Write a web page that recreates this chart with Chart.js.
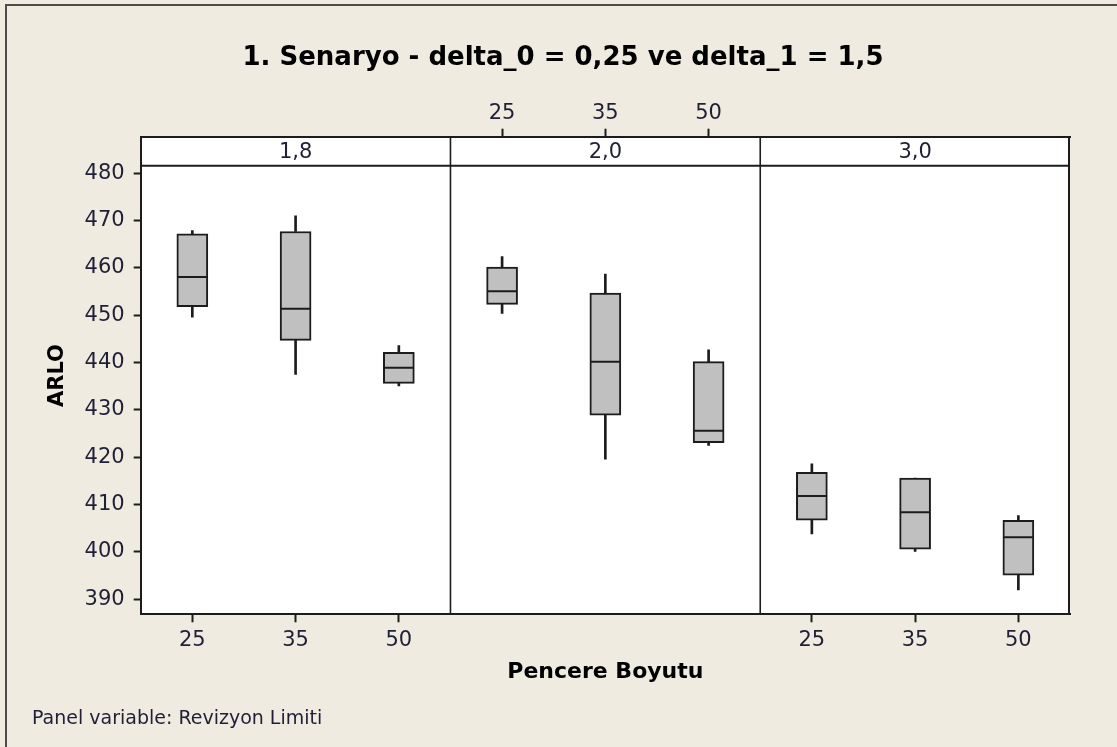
<!DOCTYPE html>
<html lang="tr">
<head>
  <meta charset="utf-8">
  <title>ARLO - Pencere Boyutu</title>
  <script src="https://cdn.jsdelivr.net/npm/chart.js@4.4.1/dist/chart.umd.min.js"></script>
  <style>
    body { margin: 0; background: #efebe1; }
    #wrap { width: 1117px; height: 747px; }
  </style>
</head>
<body>
<div id="wrap"><canvas id="arlChart" width="1117" height="747"></canvas></div>
<script>
// panels (Revizyon Limiti) and window sizes (Pencere Boyutu)
var panels = ['1,8', '2,0', '3,0'];
var windowSizes = ['25', '35', '50'];
var yTicks = [390, 400, 410, 420, 430, 440, 450, 460, 470, 480];

// box statistics, three per panel in order 25, 35, 50
var mins    = [449.6, 437.5, 435.1,  450.4, 419.6, 422.5,  403.8, 400.1, 392.0];
var q1s     = [451.8, 444.7, 435.6,  452.3, 428.9, 423.1,  406.7, 400.6, 395.1];
var medians = [458.1, 451.4, 438.9,  455.1, 440.2, 425.6,  411.8, 408.4, 403.1];
var q3s     = [467.2, 467.7, 442.2,  460.2, 454.7, 440.2,  416.8, 415.6, 406.7];
var maxs    = [467.9, 471.0, 443.6,  462.4, 458.7, 442.7,  418.6, 415.6, 407.7];

var labels = [];
panels.forEach(function () { windowSizes.forEach(function (w) { labels.push(w); }); });

var ink = '#1c1c1c';
var textCol = '#1f1f35';
var stripH = 29;

Chart.defaults.font.family = '"DejaVu Sans", sans-serif';
Chart.defaults.color = textCol;

function panelOf(i) { return Math.floor(i / windowSizes.length); }

// background, frame, panel strips and separators
var panelPlugin = {
  id: 'panels',
  beforeDraw: function (chart) {
    var c = chart.ctx, a = chart.chartArea;
    c.save();
    c.fillStyle = '#efebe1';
    c.fillRect(0, 0, chart.width, chart.height);
    c.fillStyle = '#4d4d4d';
    c.fillRect(5, 4, chart.width - 5, 2);
    c.fillRect(5, 4, 2, chart.height - 4);
    c.fillStyle = '#ffffff';
    c.fillRect(a.left, a.top, a.right - a.left, a.bottom - a.top);
    c.restore();
  },
  beforeDatasetsDraw: function (chart) {
    var c = chart.ctx, a = chart.chartArea, x = chart.scales.x;
    var n = windowSizes.length;
    c.save();
    c.strokeStyle = ink;
    c.lineWidth = 2;
    // strip bottom line
    c.beginPath();
    c.moveTo(a.left, a.top + stripH);
    c.lineTo(a.right, a.top + stripH);
    // right frame
    c.moveTo(a.right - 1, a.top);
    c.lineTo(a.right - 1, a.bottom);
    c.stroke();
    // panel separators
    c.lineWidth = 1.6;
    for (var p = 1; p < panels.length; p++) {
      var sx = (x.getPixelForValue(p * n - 1) + x.getPixelForValue(p * n)) / 2;
      c.beginPath();
      c.moveTo(sx, a.top);
      c.lineTo(sx, a.bottom);
      c.stroke();
    }
    // strip labels
    c.fillStyle = textCol;
    c.font = '21px "DejaVu Sans", sans-serif';
    c.textAlign = 'center';
    c.textBaseline = 'middle';
    for (var q = 0; q < panels.length; q++) {
      var lx = q === 0 ? a.left : (x.getPixelForValue(q * n - 1) + x.getPixelForValue(q * n)) / 2;
      var rx = q === panels.length - 1 ? a.right : (x.getPixelForValue((q + 1) * n - 1) + x.getPixelForValue((q + 1) * n)) / 2;
      c.fillText(panels[q], (lx + rx) / 2, a.top + stripH / 2 + 1);
    }
    // main title
    c.fillStyle = '#000000';
    c.font = 'bold 26px "DejaVu Sans", sans-serif';
    c.fillText('1. Senaryo - delta_0 = 0,25 ve delta_1 = 1,5', 563, 58);
    c.restore();
  }
};

var tickFont = { size: 21 };

new Chart(document.getElementById('arlChart'), {
  type: 'bar',
  data: {
    labels: labels,
    datasets: [
      {
        type: 'line',
        label: 'Medyan',
        data: medians,
        showLine: false,
        pointStyle: 'line',
        pointRadius: 14.5,
        pointHoverRadius: 14.5,
        pointBorderWidth: 2,
        pointBorderColor: ink,
        order: 0
      },
      {
        label: 'Kutu',
        data: q1s.map(function (v, i) { return [v, q3s[i]]; }),
        backgroundColor: '#c0c0c0',
        borderColor: ink,
        borderWidth: 2,
        borderSkipped: false,
        barThickness: 31,
        grouped: false,
        order: 1
      },
      {
        label: 'Alt',
        data: mins.map(function (v, i) { return [v, q1s[i]]; }),
        backgroundColor: ink,
        borderWidth: 0,
        barThickness: 2,
        grouped: false,
        order: 2
      },
      {
        label: 'Ust',
        data: q3s.map(function (v, i) { return [v, maxs[i]]; }),
        backgroundColor: ink,
        borderWidth: 0,
        barThickness: 2,
        grouped: false,
        order: 2
      }
    ]
  },
  options: {
    responsive: false,
    animation: false,
    events: [],
    layout: { padding: { top: 0, left: 32, right: 47, bottom: 11.6 } },
    plugins: {
      legend: { display: false },
      tooltip: { enabled: false },
      subtitle: {
        display: true,
        position: 'bottom',
        align: 'start',
        text: 'Panel variable: Revizyon Limiti',
        color: textCol,
        font: { size: 19, weight: 'normal' },
        padding: { top: 17.6, bottom: 5 }
      }
    },
    scales: {
      x: {
        position: 'bottom',
        offset: true,
        grid: {
          drawOnChartArea: false,
          offset: false,
          tickLength: 8,
          tickWidth: 2,
          tickColor: function (ctx) { return panelOf(ctx.index) === 1 ? 'rgba(0,0,0,0)' : ink; }
        },
        border: { display: true, color: ink, width: 2 },
        ticks: {
          font: tickFont,
          padding: 6,
          autoSkip: false,
          maxRotation: 0,
          callback: function (v, i) { return panelOf(i) === 1 ? '' : labels[i]; }
        },
        title: {
          display: true,
          text: 'Pencere Boyutu',
          color: '#000000',
          font: { size: 22, weight: 'bold' },
          padding: { top: 0, bottom: 4.8 }
        },
        afterFit: function (s) { s.height = 75.7; }
      },
      x2: {
        type: 'category',
        position: 'top',
        offset: true,
        grid: {
          drawOnChartArea: false,
          offset: false,
          tickLength: 8,
          tickWidth: 2,
          tickColor: function (ctx) { return panelOf(ctx.index) === 1 ? ink : 'rgba(0,0,0,0)'; }
        },
        border: { display: true, color: ink, width: 2 },
        ticks: {
          font: tickFont,
          padding: 3,
          autoSkip: false,
          maxRotation: 0,
          callback: function (v, i) { return panelOf(i) === 1 ? labels[i] : ''; }
        },
        afterFit: function (s) { s.height = 136.7; }
      },
      y: {
        min: 386.83,
        max: 487.73,
        grid: {
          drawOnChartArea: false,
          tickLength: 7,
          tickWidth: 2,
          tickColor: ink
        },
        border: { display: true, color: ink, width: 2 },
        ticks: { font: tickFont, padding: 9 },
        afterBuildTicks: function (s) { s.ticks = yTicks.map(function (v) { return { value: v }; }); },
        title: {
          display: true,
          text: 'ARLO',
          color: '#000000',
          font: { size: 21, weight: 'bold' },
          padding: { top: 13.4, bottom: 0 }
        },
        afterFit: function (s) { s.width = 108.7; }
      }
    }
  },
  plugins: [panelPlugin]
});
</script>
</body>
</html>
